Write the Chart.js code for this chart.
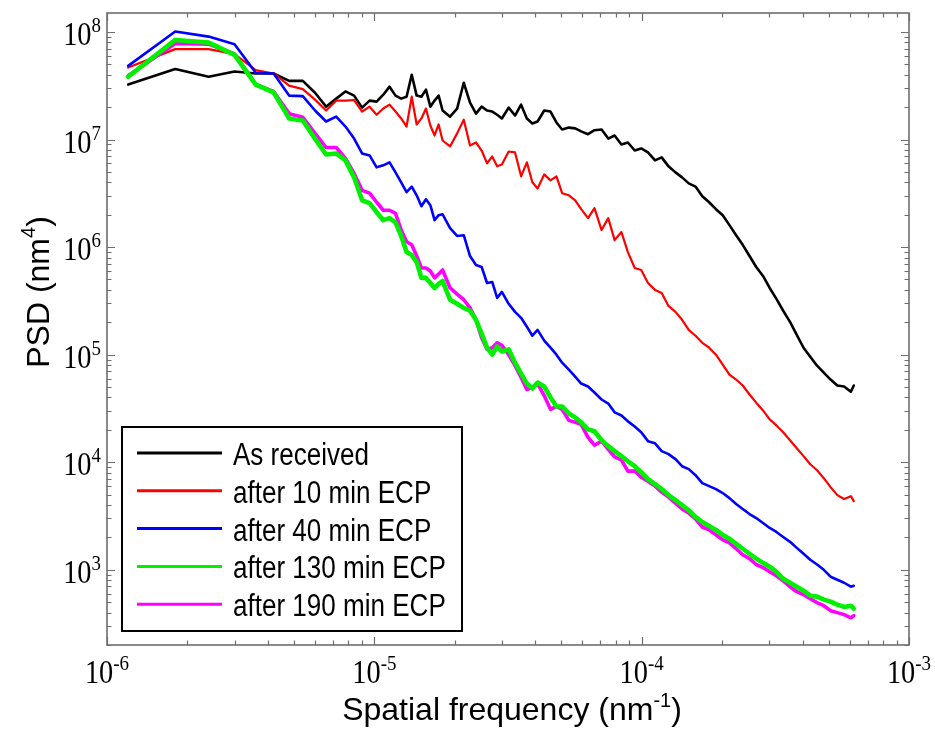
<!DOCTYPE html>
<html>
<head>
<meta charset="utf-8">
<script src="https://cdn.jsdelivr.net/npm/chart.js@4.4.1/dist/chart.umd.min.js"></script>
<style>
  html, body { margin: 0; padding: 0; background: #fff; }
  canvas { display: block; }
</style>
</head>
<body>
<canvas id="psdChart" width="935" height="732"></canvas>
<script>
// Spatial frequency (nm^-1), shared by every curve
const freq = [
  1.2e-6, 1.8e-6, 2.4e-6, 3.0e-6, 3.6e-6, 4.2e-6, 4.8e-6, 5.4e-6, 6.0e-6, 6.6e-6,
  7.2e-6, 7.8e-6, 8.4e-6, 9.0e-6, 9.6e-6, 1.02e-5, 1.08e-5, 1.14e-5, 1.2e-5, 1.26e-5,
  1.32e-5, 1.38e-5, 1.44e-5, 1.5e-5, 1.56e-5, 1.62e-5, 1.68e-5, 1.74e-5, 1.8e-5,
  1.92e-5, 2.04e-5, 2.16e-5, 2.28e-5, 2.4e-5, 2.52e-5, 2.64e-5, 2.76e-5, 2.88e-5, 3.0e-5,
  3.18e-5, 3.36e-5, 3.54e-5, 3.72e-5, 3.9e-5, 4.08e-5,
  4.32e-5, 4.56e-5, 4.8e-5, 5.04e-5,
  5.34e-5, 5.64e-5, 5.94e-5,
  6.3e-5, 6.66e-5, 7.08e-5, 7.5e-5, 7.92e-5, 8.4e-5, 8.88e-5, 9.42e-5, 9.96e-5,
  1.056e-4, 1.122e-4, 1.188e-4, 1.26e-4, 1.338e-4, 1.416e-4, 1.5e-4, 1.59e-4, 1.686e-4, 1.788e-4,
  1.896e-4, 2.01e-4, 2.13e-4, 2.256e-4, 2.388e-4, 2.532e-4, 2.682e-4, 2.844e-4, 3.012e-4, 3.192e-4,
  3.384e-4, 3.588e-4, 3.804e-4, 4.032e-4, 4.272e-4, 4.53e-4, 4.8e-4, 5.088e-4, 5.394e-4, 5.718e-4,
  6.06e-4, 6.216e-4
];

// PSD (nm^4) for each sample
const asReceived = [
  3.24e7, 4.52e7, 3.83e7, 4.29e7, 4.11e7, 4.11e7, 3.51e7, 3.51e7, 2.72e7, 2.02e7,
  2.40e7, 2.80e7, 2.56e7, 1.98e7, 2.30e7, 2.25e7, 2.61e7, 3.10e7, 2.56e7, 2.40e7,
  2.50e7, 4.00e7, 2.56e7, 2.50e7, 2.91e7, 2.02e7, 2.30e7, 2.56e7, 1.86e7,
  1.63e7, 1.94e7, 3.37e7, 2.20e7, 1.74e7, 2.02e7, 1.86e7, 1.82e7, 1.70e7, 1.57e7,
  1.98e7, 1.67e7, 2.11e7, 1.57e7, 1.41e7, 1.47e7,
  1.86e7, 1.82e7, 1.44e7, 1.24e7,
  1.29e7, 1.27e7, 1.19e7,
  1.12e7, 1.22e7, 1.24e7, 1.02e7, 1.09e7, 8.99e6, 9.38e6, 7.90e6, 8.26e6,
  7.58e6, 6.40e6, 6.82e6, 5.63e6, 4.95e6, 4.45e6, 3.91e6, 3.65e6, 2.97e6, 2.61e6,
  2.25e6, 1.98e6, 1.60e6, 1.29e6, 1.05e6, 8.26e5, 6.53e5, 5.39e5, 4.17e5, 3.30e5,
  2.56e5, 2.02e5, 1.53e5, 1.16e5, 9.58e4, 7.90e4, 6.82e4, 5.87e4, 5.17e4, 5.06e4,
  4.52e4, 5.17e4
];
const ecp10 = [
  4.67e7, 6.92e7, 6.92e7, 6.23e7, 4.42e7, 4.11e7, 3.17e7, 2.94e7, 2.35e7, 1.86e7,
  2.30e7, 2.30e7, 2.33e7, 1.82e7, 2.02e7, 1.70e7, 1.94e7, 2.11e7, 1.82e7, 1.57e7,
  1.32e7, 2.50e7, 1.38e7, 1.57e7, 1.94e7, 1.35e7, 1.09e7, 1.38e7, 9.79e6,
  8.63e6, 1.14e7, 1.53e7, 8.81e6, 9.38e6, 7.90e6, 6.00e6, 6.96e6, 5.63e6, 5.87e6,
  7.74e6, 7.58e6, 4.55e6, 6.13e6, 4.00e6, 3.51e6,
  4.74e6, 4.17e6, 4.55e6, 3.17e6,
  3.03e6, 2.72e6, 2.25e6,
  1.86e6, 2.30e6, 1.44e6, 1.86e6, 1.16e6, 1.38e6, 8.99e5, 6.40e5, 6.13e5,
  4.64e5, 4.00e5, 3.75e5, 2.84e5, 2.50e5, 2.11e5, 1.70e5, 1.50e5, 1.29e5, 1.16e5,
  1.00e5, 8.08e4, 6.53e4, 5.87e4, 5.17e4, 4.26e4, 3.58e4, 3.03e4, 2.50e4, 2.20e4,
  1.90e4, 1.60e4, 1.35e4, 1.14e4, 9.58e3, 8.43e3, 7.11e3, 5.87e3, 4.95e3, 4.55e3,
  4.84e3, 4.35e3
];
const ecp40 = [
  4.84e7, 1.01e8, 9.05e7, 7.70e7, 4.17e7, 4.11e7, 2.56e7, 2.53e7, 1.86e7, 1.47e7,
  1.63e7, 1.32e7, 1.02e7, 7.42e6, 7.11e6, 5.51e6, 5.75e6, 6.13e6, 4.95e6, 4.00e6,
  3.24e6, 3.65e6, 3.03e6, 2.40e6, 2.78e6, 2.45e6, 1.78e6, 1.98e6, 2.02e6,
  1.50e6, 1.27e6, 1.29e6, 8.26e5, 6.82e5, 6.53e5, 4.64e5, 4.74e5, 3.37e5, 3.83e5,
  2.97e5, 2.50e5, 2.20e5, 1.82e5, 1.50e5, 1.70e5,
  1.35e5, 1.16e5, 1.00e5, 8.43e4,
  7.26e4, 6.26e4, 5.39e4,
  5.06e4, 4.45e4, 3.83e4, 3.51e4, 2.91e4, 2.72e4, 2.40e4, 2.15e4, 1.90e4,
  1.57e4, 1.50e4, 1.27e4, 1.19e4, 1.07e4, 9.18e3, 8.63e3, 7.58e3, 6.40e3, 6.00e3,
  5.63e3, 5.17e3, 4.64e3, 4.09e3, 3.68e3, 3.30e3, 3.03e3, 2.72e3, 2.45e3, 2.25e3,
  2.02e3, 1.82e3, 1.60e3, 1.41e3, 1.24e3, 1.12e3, 1.00e3, 8.63e2, 8.08e2, 7.58e2,
  6.96e2, 7.11e2
];
const ecp130 = [
  3.83e7, 8.43e7, 7.96e7, 6.13e7, 3.24e7, 2.74e7, 1.57e7, 1.50e7, 1.02e7, 7.26e6,
  7.42e6, 6.40e6, 4.45e6, 2.72e6, 2.56e6, 2.11e6, 1.78e6, 1.86e6, 1.70e6, 1.27e6,
  8.99e5, 8.43e5, 7.26e5, 5.17e5, 5.17e5, 4.64e5, 4.17e5, 4.55e5, 4.84e5,
  3.24e5, 2.97e5, 2.72e5, 2.56e5, 2.11e5, 1.57e5, 1.16e5, 1.00e5, 1.19e5, 1.07e5,
  1.12e5, 8.43e4, 6.66e4, 5.39e4, 4.84e4, 5.51e4,
  5.06e4, 4.00e4, 3.30e4, 3.30e4,
  2.84e4, 2.61e4, 2.35e4,
  2.02e4, 1.94e4, 1.60e4, 1.41e4, 1.27e4, 1.14e4, 1.02e4, 9.18e3, 8.08e3,
  6.96e3, 6.26e3, 5.63e3, 4.95e3, 4.45e3, 4.00e3, 3.58e3, 3.10e3, 2.78e3, 2.56e3,
  2.35e3, 2.11e3, 1.94e3, 1.74e3, 1.57e3, 1.41e3, 1.27e3, 1.16e3, 1.07e3, 9.58e2,
  8.26e2, 7.58e2, 6.96e2, 6.40e2, 5.75e2, 5.63e2, 5.28e2, 5.06e2, 4.74e2, 4.52e2,
  4.64e2, 4.35e2
];
const ecp190 = [
  3.91e7, 7.80e7, 7.70e7, 6.23e7, 3.24e7, 2.80e7, 1.74e7, 1.61e7, 1.14e7, 8.43e6,
  8.43e6, 6.66e6, 4.84e6, 3.37e6, 3.17e6, 2.61e6, 2.20e6, 2.20e6, 2.06e6, 1.44e6,
  1.12e6, 1.05e6, 8.26e5, 6.40e5, 6.40e5, 6.00e5, 5.17e5, 5.63e5, 6.13e5,
  4.17e5, 3.65e5, 3.24e5, 2.72e5, 2.11e5, 1.44e5, 1.12e5, 1.16e5, 1.29e5, 1.22e5,
  1.00e5, 7.90e4, 6.13e4, 4.74e4, 4.95e4, 5.39e4,
  4.17e4, 3.10e4, 3.30e4, 3.10e4,
  2.45e4, 2.35e4, 2.25e4,
  1.70e4, 1.44e4, 1.57e4, 1.32e4, 1.12e4, 1.05e4, 8.26e3, 8.26e3, 7.26e3,
  6.66e3, 6.00e3, 5.28e3, 4.74e3, 4.17e3, 3.68e3, 3.37e3, 2.97e3, 2.50e3, 2.35e3,
  2.11e3, 1.90e3, 1.78e3, 1.57e3, 1.38e3, 1.27e3, 1.12e3, 1.05e3, 9.58e2, 8.81e2,
  7.90e2, 6.96e2, 6.26e2, 5.87e2, 5.39e2, 4.95e2, 4.64e2, 4.17e2, 4.00e2, 3.83e2,
  3.58e2, 3.75e2
];

const seriesLabels = ['As received', 'after 10 min ECP', 'after 40 min ECP', 'after 130 min ECP', 'after 190 min ECP'];

// decade exponents used for the tick labels
const xTickExp = [-6, -5, -4, -3];
const yTickExp = [3, 4, 5, 6, 7, 8];

const frameColor = '#6e6e6e';
const serif = '"Liberation Serif", "Times New Roman", serif';
const sans = '"Liberation Sans", Arial, sans-serif';

function toPoints(vals) {
    return freq.map((f, i) => ({ x: f, y: vals[i] }));
}

// text with a horizontal squeeze (the source figure is slightly narrow)
function putText(ctx, str, x, y, font, sx) {
    ctx.save();
    ctx.font = font;
    ctx.translate(x, y);
    ctx.scale(sx, 1);
    ctx.fillText(str, 0, 0);
    ctx.restore();
}
function textW(ctx, str, font, sx) {
    ctx.font = font;
    return ctx.measureText(str).width * sx;
}

// "10" with a raised exponent
function powerLabel(ctx, exp, x, y, align) {
    const baseFont = '33px ' + serif, supFont = '22px ' + serif, sx = 0.86;
    const wb = textW(ctx, '10', baseFont, sx);
    const we = textW(ctx, exp, supFont, sx);
    let x0 = x;
    if (align === 'center') x0 = x - (wb + we) / 2;
    if (align === 'right') x0 = x - wb - we;
    putText(ctx, '10', x0, y, baseFont, sx);
    putText(ctx, exp, x0 + wb, y - 13, supFont, sx);
}

const framePlugin = {
    id: 'frame',
    afterDatasetsDraw(chart) {
        const { ctx, chartArea: a, scales: { x, y } } = chart;
        ctx.save();
        ctx.textAlign = 'left';
        ctx.textBaseline = 'alphabetic';
        ctx.fillStyle = '#000';

        // box round the plot
        ctx.strokeStyle = frameColor;
        ctx.lineWidth = 1.6;
        ctx.strokeRect(a.left, a.top, a.right - a.left, a.bottom - a.top);

        // inward ticks on all four sides
        ctx.lineWidth = 1.2;
        ctx.beginPath();
        for (let e = xTickExp[0]; e <= xTickExp[xTickExp.length - 1]; e++) {
            for (let m = 1; m < 10; m++) {
                const v = m * Math.pow(10, e);
                if (v > x.max * 1.0001) break;
                const px = Math.round(x.getPixelForValue(v)) + 0.5;
                const len = m === 1 ? 8 : 4.5;
                ctx.moveTo(px, a.bottom); ctx.lineTo(px, a.bottom - len);
                ctx.moveTo(px, a.top); ctx.lineTo(px, a.top + len);
            }
        }
        for (let e = yTickExp[0] - 1; e <= yTickExp[yTickExp.length - 1]; e++) {
            for (let m = 1; m < 10; m++) {
                const v = m * Math.pow(10, e);
                if (v < y.min || v > y.max) continue;
                const py = Math.round(y.getPixelForValue(v)) + 0.5;
                const len = m === 1 ? 8 : 4.5;
                ctx.moveTo(a.left, py); ctx.lineTo(a.left + len, py);
                ctx.moveTo(a.right, py); ctx.lineTo(a.right - len, py);
            }
        }
        ctx.stroke();

        // tick labels
        xTickExp.forEach(e => {
            powerLabel(ctx, String(e), x.getPixelForValue(Math.pow(10, e)), 683, 'center');
        });
        yTickExp.forEach(e => {
            powerLabel(ctx, String(e), 101, y.getPixelForValue(Math.pow(10, e)) + 13, 'right');
        });

        // axis titles
        const tFont = '32px ' + sans, sFont = '20px ' + sans;
        const xa = 'Spatial frequency (nm', xs = '-1', xb = ')';
        const wx = textW(ctx, xa, tFont, 1) + textW(ctx, xs, sFont, 1) + textW(ctx, xb, tFont, 1);
        let cx = (a.left + a.right) / 2 + 4 - wx / 2;
        putText(ctx, xa, cx, 720, tFont, 1);
        cx += textW(ctx, xa, tFont, 1);
        putText(ctx, xs, cx, 707, sFont, 1);
        cx += textW(ctx, xs, sFont, 1);
        putText(ctx, xb, cx, 720, tFont, 1);

        ctx.save();
        ctx.translate(49, 292);
        ctx.rotate(-Math.PI / 2);
        const ya = 'PSD (nm', ys = '4', yb = ')';
        const wy = textW(ctx, ya, tFont, 1) + textW(ctx, ys, sFont, 1) + textW(ctx, yb, tFont, 1);
        let cy = -wy / 2;
        putText(ctx, ya, cy, 0, tFont, 1);
        cy += textW(ctx, ya, tFont, 1);
        putText(ctx, ys, cy, -14, sFont, 1);
        cy += textW(ctx, ys, sFont, 1);
        putText(ctx, yb, cy, 0, tFont, 1);
        ctx.restore();

        // legend box
        const lg = { left: 122, top: 427, right: 462, bottom: 631 };
        ctx.fillStyle = '#fff';
        ctx.fillRect(lg.left, lg.top, lg.right - lg.left, lg.bottom - lg.top);
        ctx.strokeStyle = '#000';
        ctx.lineWidth = 2;
        ctx.strokeRect(lg.left, lg.top, lg.right - lg.left, lg.bottom - lg.top);
        const lFont = '31px ' + sans;
        chart.data.datasets.forEach((ds, i) => {
            const ly = 453 + i * 37.8;
            ctx.strokeStyle = ds.borderColor;
            ctx.lineWidth = 3;
            ctx.beginPath();
            ctx.moveTo(137, ly); ctx.lineTo(222, ly);
            ctx.stroke();
            ctx.fillStyle = '#000';
            putText(ctx, ds.label, 233, ly + 12, lFont, 0.84);
        });
        ctx.restore();
    }
};

const colors = ['#000000', '#ff0000', '#0000ff', '#00f000', '#ff00ff'];
const widths = [2.6, 2.2, 2.6, 4.6, 3.6];
const drawOrder = [5, 4, 3, 1, 2];
const seriesValues = [asReceived, ecp10, ecp40, ecp130, ecp190];

new Chart(document.getElementById('psdChart'), {
    type: 'line',
    data: {
        datasets: seriesValues.map((vals, i) => ({
            label: seriesLabels[i],
            data: toPoints(vals),
            borderColor: colors[i],
            borderWidth: widths[i],
            order: drawOrder[i],
            fill: false
        }))
    },
    options: {
        responsive: false,
        animation: false,
        devicePixelRatio: 1,
        layout: { padding: { left: 107, right: 26, top: 13, bottom: 87 } },
        plugins: {
            legend: { display: false },
            tooltip: { enabled: false }
        },
        elements: {
            point: { radius: 0 },
            line: { tension: 0, borderJoinStyle: 'round', borderCapStyle: 'round' }
        },
        scales: {
            x: { type: 'logarithmic', min: 1e-6, max: 1e-3, display: false },
            y: { type: 'logarithmic', min: 200, max: 1.5e8, display: false }
        }
    },
    plugins: [framePlugin]
});
</script>
</body>
</html>
